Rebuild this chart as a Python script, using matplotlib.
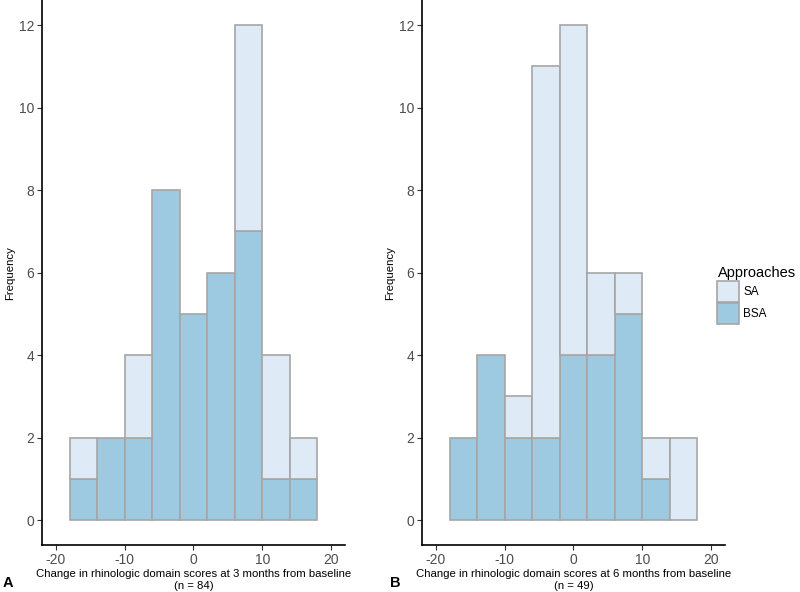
import numpy as np
import matplotlib
matplotlib.use("Agg")
import matplotlib.pyplot as plt
from matplotlib.patches import Patch

plt.rcParams['font.family'] = ['Liberation Sans', 'DejaVu Sans']
plt.rcParams['axes.unicode_minus'] = False

# histogram bins (width 4) and counts per approach
bin_edges = [-18, -14, -10, -6, -2, 2, 6, 10, 14, 18]
a_bsa = [1, 2, 2, 8, 5, 6, 7, 1, 1]
a_sa = [1, 0, 2, 0, 0, 0, 5, 3, 1]
b_bsa = [2, 4, 2, 2, 4, 4, 5, 1, 0]
b_sa = [0, 0, 1, 9, 8, 2, 1, 1, 2]

xlabels = ["Change in rhinologic domain scores at 3 months from baseline\n(n = 84)",
           "Change in rhinologic domain scores at 6 months from baseline\n(n = 49)"]
panel_tags = ["A", "B"]

sa_col = '#deebf7'
bsa_col = '#9ecae1'
edge_col = '#a6a6a6'
tick_col = '#4d4d4d'


def draw_hist(ax, bsa, sa):
    edges = np.array(bin_edges, dtype=float)
    left = edges[:-1]
    w = np.diff(edges)
    bsa = np.array(bsa)
    sa = np.array(sa)
    m = bsa > 0
    ax.bar(left[m], bsa[m], width=w[m], align='edge', color=bsa_col,
           edgecolor=edge_col, linewidth=1.2, zorder=2)
    m = sa > 0
    ax.bar(left[m], sa[m], width=w[m], bottom=bsa[m], align='edge', color=sa_col,
           edgecolor=edge_col, linewidth=1.2, zorder=2)
    ax.set_xlim(-22, 22)
    ax.set_ylim(-0.6, 12.6)
    ax.set_xticks([-20, -10, 0, 10, 20])
    ax.set_yticks([0, 2, 4, 6, 8, 10, 12])
    for s in ['top', 'right']:
        ax.spines[s].set_visible(False)
    for s in ['left', 'bottom']:
        ax.spines[s].set_linewidth(1.2)
        ax.spines[s].set_color('black')
    ax.tick_params(length=3.5, width=0.8, color='#333333', labelcolor=tick_col, labelsize=10, pad=2)


fig = plt.figure(figsize=(8, 5.92), dpi=100)
ax1 = fig.add_axes([0.0525, 0.0794, 0.3785, 0.92])
ax2 = fig.add_axes([0.5275, 0.0794, 0.3785, 0.92])

for ax, bsa, sa, xl in zip([ax1, ax2], [a_bsa, b_bsa], [a_sa, b_sa], xlabels):
    draw_hist(ax, bsa, sa)
    ax.set_xlabel(xl, fontsize=8.2, labelpad=2, linespacing=1.15)
    ax.set_ylabel("Frequency", fontsize=8.2, labelpad=3)

fig.text(0.003, 0.008, panel_tags[0], fontsize=10.5, fontweight='bold', ha='left', va='baseline')
fig.text(0.488, 0.008, panel_tags[1], fontsize=10.5, fontweight='bold', ha='left', va='baseline')

handles = [Patch(facecolor=sa_col, edgecolor=edge_col, linewidth=1.2, label='SA'),
           Patch(facecolor=bsa_col, edgecolor=edge_col, linewidth=1.2, label='BSA')]
leg = fig.legend(handles=handles, title='Approaches', loc='upper left',
                 bbox_to_anchor=(0.888, 0.562), frameon=False, fontsize=8.5,
                 title_fontsize=10.5, handlelength=1.85, handleheight=2.4,
                 handletextpad=0.35, labelspacing=0.05, borderpad=0.1)
leg._legend_box.align = 'left'

fig.savefig('out.png', dpi=100)
